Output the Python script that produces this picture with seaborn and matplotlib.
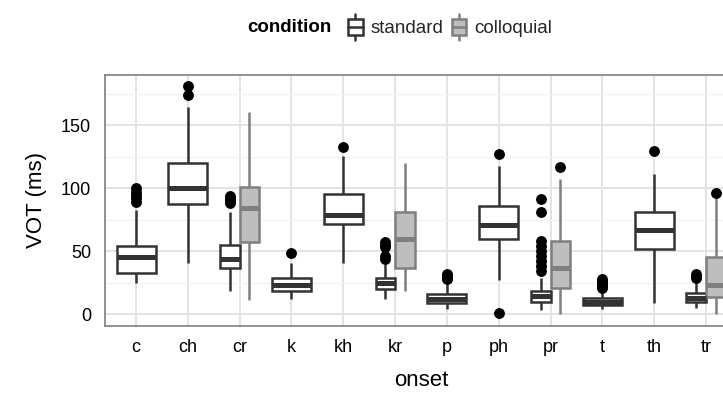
import numpy as np
import pandas as pd
import matplotlib
matplotlib.use("Agg")
import matplotlib.pyplot as plt
from matplotlib.patches import Rectangle, Patch
from matplotlib.lines import Line2D
from matplotlib.legend_handler import HandlerBase
import seaborn as sns

# ---- data: VOT box summaries per onset and condition ----
onsets = ["c", "ch", "cr", "k", "kh", "kr", "p", "ph", "pr", "t", "th", "tr"]
conditions = ["standard", "colloquial"]

# standard condition: lower whisker, Q1, median, Q3, upper whisker (ms)
std_onsets = ["c", "ch", "cr", "k", "kh", "kr", "p", "ph", "pr", "t", "th", "tr"]
std_low = [25, 41, 18, 12, 41, 12, 4, 27, 3, 4, 8.5, 5]
std_q1 = [33, 87.5, 36.5, 18.5, 72, 20, 8.5, 60, 9.5, 7, 51.5, 9.5]
std_med = [45, 100.5, 44, 23.5, 79, 24.5, 12, 71, 14.5, 9.5, 66.5, 13]
std_q3 = [54.5, 120.5, 55, 28.5, 95.5, 29, 16, 86, 18.5, 12.5, 81, 17]
std_high = [83, 164.5, 81, 41, 125.5, 41, 25, 118, 29, 18, 111.5, 25]
std_outliers = [
    [89, 92, 95, 97, 100],
    [174, 181],
    [88, 90, 92, 94],
    [48.5],
    [132.5],
    [44, 46, 53, 55, 57],
    [28, 29, 30, 31, 32],
    [1, 127.5],
    [34, 38, 42, 46, 50, 54, 58, 81, 91.5],
    [21, 22, 23.5, 25, 26.5, 28],
    [129.5],
    [29, 30.5, 32],
]

# colloquial condition (only clusters)
col_onsets = ["cr", "kr", "pr", "tr"]
col_low = [11.5, 18, 0, 0]
col_q1 = [57, 37, 21, 13.5]
col_med = [84, 59.5, 37, 23.5]
col_q3 = [101, 81, 58, 45.5]
col_high = [160.5, 120.5, 107.5, 92]
col_outliers = [[], [], [117], [96.5]]


def sample_with_stats(lo, q1, med, q3, hi, outs):
    """Sorted sample whose quartiles, whisker ends and fliers equal the given values."""
    lows = sorted(v for v in outs if v < q1)
    highs = sorted(v for v in outs if v > q3)
    m = max(len(lows), len(highs)) + 1
    vals = list(lows) + [lo]
    vals += [q1] * (m - len(vals) + 1)
    vals += [med] * m
    vals += [q3] * m
    vals += [hi] * (m - len(highs))
    vals += highs
    return vals


rows = []
for i, o in enumerate(std_onsets):
    for v in sample_with_stats(std_low[i], std_q1[i], std_med[i], std_q3[i],
                               std_high[i], std_outliers[i]):
        rows.append((o, "standard", v))
for i, o in enumerate(col_onsets):
    for v in sample_with_stats(col_low[i], col_q1[i], col_med[i], col_q3[i],
                               col_high[i], col_outliers[i]):
        rows.append((o, "colloquial", v))
df = pd.DataFrame(rows, columns=["onset", "condition", "vot"])

# ---- style ----
sns.set_theme(style="white")
plt.rcParams["font.family"] = ["Liberation Sans", "DejaVu Sans"]

STD_FILL, STD_EDGE = "#FFFFFF", "#333333"
COL_FILL, COL_EDGE = "#BEBEBE", "#7F7F7F"

W, H = 723, 398
fig = plt.figure(figsize=(W / 100, H / 100), dpi=100)
# panel spans x 105..737 px (right part runs off the canvas), y 75..325.5 px
ax = fig.add_axes([105 / W, 1 - 325.5 / H, 632 / W, 250.5 / H])

both = df.groupby("onset")["condition"].nunique()
paired = set(both[both > 1].index)
single = df[~df["onset"].isin(paired)]
pair_std = df[df["onset"].isin(paired) & (df["condition"] == "standard")]
pair_col = df[df["onset"].isin(paired) & (df["condition"] == "colloquial")]

lw = 1.8
med_lw = 3.6
common = dict(
    x="onset", y="vot", order=onsets, saturation=1, whis=1.5,
    linewidth=lw, showcaps=False, ax=ax,
    flierprops=dict(marker="o", markerfacecolor="black", markeredgecolor="black",
                    markersize=6.8, linestyle="none"),
)

sns.boxplot(data=single, color=STD_FILL, linecolor=STD_EDGE, width=0.75,
            medianprops=dict(color=STD_EDGE, linewidth=med_lw, solid_capstyle="butt"),
            **common)
pal = {"standard": STD_FILL, "colloquial": COL_FILL}
sns.boxplot(data=pair_std, hue="condition", hue_order=conditions, palette=pal,
            linecolor=STD_EDGE, width=0.75, dodge=True, legend=False,
            medianprops=dict(color=STD_EDGE, linewidth=med_lw, solid_capstyle="butt"),
            **common)
sns.boxplot(data=pair_col, hue="condition", hue_order=conditions, palette=pal,
            linecolor=COL_EDGE, width=0.75, dodge=True, legend=False,
            medianprops=dict(color=COL_EDGE, linewidth=med_lw, solid_capstyle="butt"),
            **common)

# ---- axes ----
ax.set_xlim(-0.6, len(onsets) - 1 + 0.6)
ymin, ymax = df["vot"].min(), df["vot"].max()
pad = 0.05 * (ymax - ymin)
ax.set_ylim(ymin - pad, ymax + pad)
ax.set_yticks([0, 50, 100, 150])
ax.set_yticks([25, 75, 125, 175], minor=True)
ax.set_xticks(range(len(onsets)))
ax.set_xticklabels(onsets)

ax.set_axisbelow(True)
ax.grid(True, which="major", axis="both", color="#E3E3E3", linewidth=1.4)
ax.grid(True, which="minor", axis="y", color="#F2F2F2", linewidth=1.0)
ax.tick_params(which="major", length=6, width=1.5, color="#222222",
               labelsize=13, labelcolor="black", pad=4)
ax.tick_params(which="minor", length=0)
for s in ax.spines.values():
    s.set_color("#7F7F7F")
    s.set_linewidth(1.2)

ax.set_xlabel("onset", fontsize=16, color="black", labelpad=10)
ax.set_ylabel("VOT (ms)", fontsize=16, color="black", labelpad=10)


# ---- legend on top with boxplot keys ----
class BoxKey(HandlerBase):
    def create_artists(self, legend, orig_handle, xdescent, ydescent,
                       width, height, fontsize, trans):
        face = orig_handle.get_facecolor()
        edge = orig_handle.get_edgecolor()
        x0, y0 = -xdescent, -ydescent
        cx = x0 + width / 2
        bw = width * 0.85
        b0, b1 = y0 + height * 0.2, y0 + height * 0.8
        whisk = Line2D([cx, cx], [y0, y0 + height], color=edge, lw=1.8,
                       transform=trans)
        box = Rectangle((cx - bw / 2, b0), bw, b1 - b0, facecolor=face,
                        edgecolor=edge, lw=1.8, transform=trans)
        mid = Line2D([cx - bw / 2, cx + bw / 2], [(b0 + b1) / 2] * 2,
                     color=edge, lw=1.8, transform=trans)
        return [whisk, box, mid]


handles = [Patch(facecolor=STD_FILL, edgecolor=STD_EDGE),
           Patch(facecolor=COL_FILL, edgecolor=COL_EDGE)]
ly = 1 - 27 / H
fig.text(247 / W, ly, "condition", fontsize=13.5, fontweight="bold",
         ha="left", va="center", color="black")
fig.legend(handles, conditions, handler_map={Patch: BoxKey()},
           loc="center left", bbox_to_anchor=(347 / W, ly), ncol=2,
           frameon=False, fontsize=13.5, handlelength=0.9, handleheight=1.8,
           handletextpad=0.35, columnspacing=0.4, borderpad=0, borderaxespad=0)

fig.savefig("out.png", dpi=100)
